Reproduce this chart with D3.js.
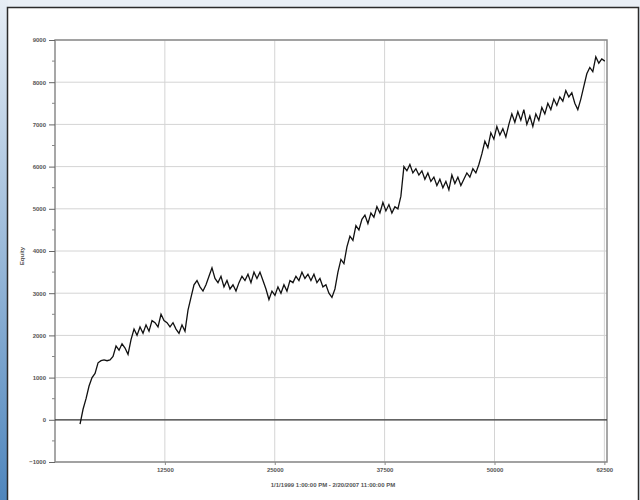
<!DOCTYPE html>
<html>
<head>
<meta charset="utf-8">
<script src="https://cdn.jsdelivr.net/npm/d3@7"></script>
<style>
  html, body { margin: 0; padding: 0; background: #fff; }
  svg { display: block; }
  text { font-family: "Liberation Sans", "DejaVu Sans", sans-serif; }
</style>
</head>
<body>
<svg id="chart" width="640" height="500"></svg>
<script>
// Equity curve sampled at regular trade intervals
const equity = [
  -100, 250, 500, 800, 1000, 1100, 1350, 1400, 1420, 1400, 1420, 1500, 1750, 1650, 1800, 1700,
  1550, 1900, 2150, 2000, 2200, 2050, 2250, 2100, 2350, 2300, 2200, 2500, 2350, 2300, 2200, 2300,
  2150, 2050, 2250, 2100, 2600, 2900, 3200, 3300, 3150, 3050, 3200, 3400, 3600, 3350, 3250, 3400,
  3150, 3300, 3100, 3200, 3050, 3250, 3400, 3300, 3450, 3250, 3500, 3350, 3500, 3300, 3100, 2850,
  3050, 2950, 3150, 3000, 3200, 3050, 3300, 3250, 3400, 3300, 3500, 3350, 3450, 3300, 3450, 3250,
  3350, 3150, 3200, 3000, 2900, 3100, 3500, 3800, 3700, 4100, 4350, 4250, 4600, 4500, 4750, 4850,
  4650, 4900, 4800, 5050, 4900, 5150, 4950, 5100, 4900, 5050, 5000, 5300, 6000, 5900, 6050, 5850,
  5950, 5800, 5900, 5700, 5850, 5650, 5750, 5550, 5700, 5500, 5650, 5450, 5800, 5600, 5750, 5550,
  5700, 5850, 5750, 5950, 5850, 6050, 6300, 6600, 6450, 6800, 6650, 6950, 6750, 6900, 6700, 7000,
  7250, 7050, 7300, 7100, 7350, 7000, 7200, 6950, 7250, 7100, 7400, 7250, 7500, 7350, 7600, 7450,
  7650, 7550, 7800, 7650, 7750, 7500, 7350, 7600, 7900, 8200, 8350, 8250, 8600, 8450, 8550, 8500
];
const firstTrade = 2850;
const lastTrade = 62550;

const xTickValues = [12500, 25000, 37500, 50000, 62500];
const yTickValues = [-1000, 0, 1000, 2000, 3000, 4000, 5000, 6000, 7000, 8000, 9000];
const yTitle = "Equity";
const xTitle = "1/1/1999 1:00:00 PM - 2/20/2007 11:00:00 PM";

const svg = d3.select("#chart");
const W = 640, H = 500;

// Window-style frame with blue gradient edge
const defs = svg.append("defs");
const grad = defs.append("linearGradient").attr("id", "edge").attr("x1", 0).attr("y1", 0).attr("x2", 0).attr("y2", 1);
grad.append("stop").attr("offset", "0%").attr("stop-color", "#e6edf5");
grad.append("stop").attr("offset", "100%").attr("stop-color", "#4f86bd");
svg.append("rect").attr("x", 0).attr("y", 0).attr("width", W).attr("height", H).attr("fill", "#e9eff6");
svg.append("rect").attr("x", 0).attr("y", 0).attr("width", 8).attr("height", H).attr("fill", "url(#edge)");
svg.append("rect").attr("x", 7.5).attr("y", 7.5).attr("width", W - 9).attr("height", H).attr("fill", "#fff")
  .attr("stroke", "#2b2b2b").attr("stroke-width", 1.5);

const m = { left: 55, right: 607, top: 40, bottom: 462 };
const x = d3.scaleLinear().domain([0, 62800]).range([m.left, m.right]);
const y = d3.scaleLinear().domain([-1000, 9000]).range([m.bottom, m.top]);

const g = svg.append("g");

// Grid lines
g.append("g").selectAll("line").data(yTickValues).join("line")
  .attr("x1", m.left).attr("x2", m.right)
  .attr("y1", d => y(d)).attr("y2", d => y(d))
  .attr("stroke", "#d4d4d4").attr("stroke-width", 1);
g.append("g").selectAll("line").data(xTickValues).join("line")
  .attr("y1", m.top).attr("y2", m.bottom)
  .attr("x1", d => x(d)).attr("x2", d => x(d))
  .attr("stroke", "#d4d4d4").attr("stroke-width", 1);

// Plot frame
g.append("rect").attr("x", m.left).attr("y", m.top)
  .attr("width", m.right - m.left).attr("height", m.bottom - m.top)
  .attr("fill", "none").attr("stroke", "#8a8a8a").attr("stroke-width", 1.5);

// Zero line
g.append("line").attr("x1", m.left).attr("x2", m.right)
  .attr("y1", y(0)).attr("y2", y(0)).attr("stroke", "#3a3a3a").attr("stroke-width", 1.2);

// Y axis with minor ticks
const yAxis = d3.axisLeft(y).tickValues(yTickValues).tickSize(6).tickPadding(3).tickFormat(d3.format("d"));
const ya = g.append("g").attr("transform", `translate(${m.left},0)`).call(yAxis);
ya.select(".domain").remove();
ya.selectAll("line").attr("stroke", "#666");
ya.selectAll("text").attr("font-size", 6).attr("font-weight", "bold").attr("fill", "#555");
const minor = d3.range(-500, 9000, 1000);
g.append("g").selectAll("line").data(minor).join("line")
  .attr("x1", m.left - 3).attr("x2", m.left)
  .attr("y1", d => y(d)).attr("y2", d => y(d)).attr("stroke", "#888");

// X axis
const xAxis = d3.axisBottom(x).tickValues(xTickValues).tickSize(3).tickPadding(3).tickFormat(d3.format("d"));
const xa = g.append("g").attr("transform", `translate(0,${m.bottom})`).call(xAxis);
xa.select(".domain").remove();
xa.selectAll("line").attr("stroke", "#888");
xa.selectAll("text").attr("font-size", 6).attr("font-weight", "bold").attr("fill", "#555");

// Titles
svg.append("text").attr("transform", `translate(24,${(m.top + m.bottom) / 2 + 5}) rotate(-90)`)
  .attr("text-anchor", "middle").attr("font-size", 6).attr("font-weight", "bold").attr("fill", "#555").text(yTitle);
svg.append("text").attr("x", 333).attr("y", 487)
  .attr("text-anchor", "middle").attr("font-size", 6).attr("font-weight", "bold").attr("fill", "#555").text(xTitle);

// Equity line
const step = (lastTrade - firstTrade) / (equity.length - 1);
const line = d3.line().x((d, i) => x(firstTrade + i * step)).y(d => y(d));
g.append("path").datum(equity).attr("d", line)
  .attr("fill", "none").attr("stroke", "#111").attr("stroke-width", 1.3).attr("stroke-linejoin", "miter");
</script>
</body>
</html>
